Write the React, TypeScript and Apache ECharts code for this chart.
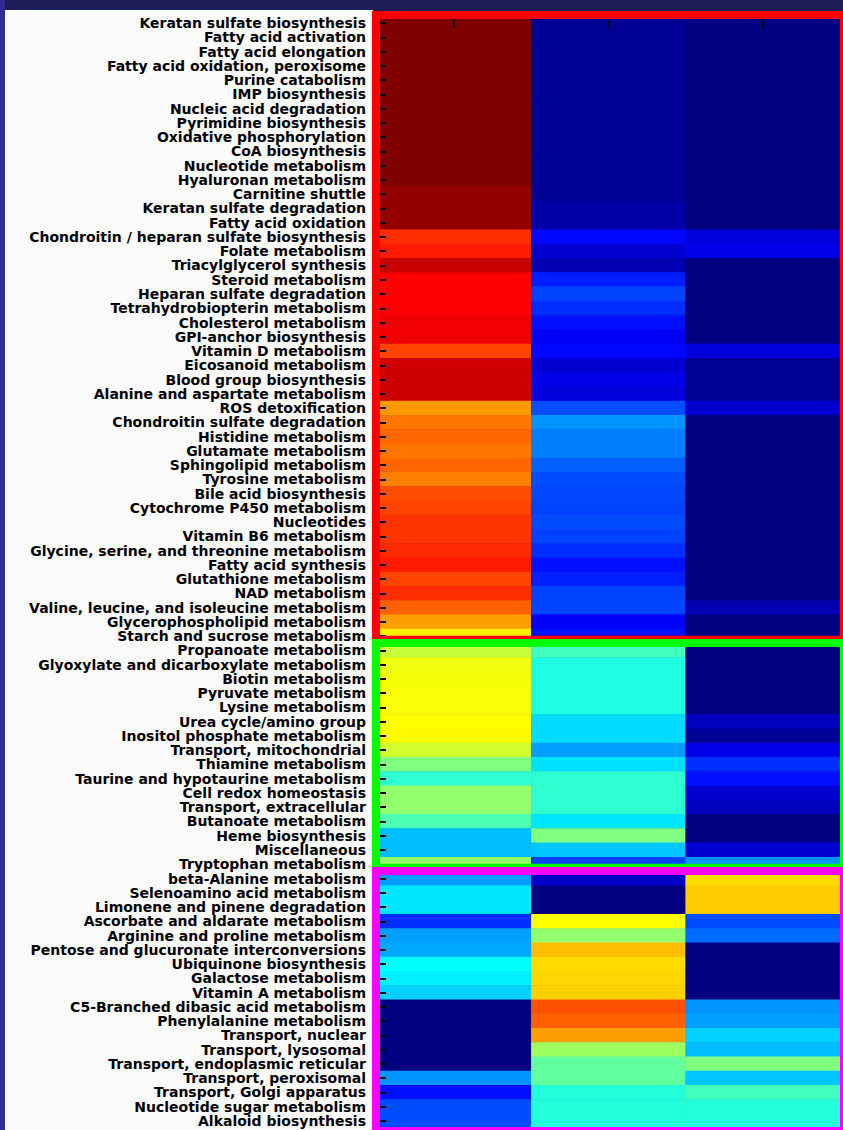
import React, { useEffect, useRef } from "react";
import * as echarts from "echarts";

const categories = [
  "Keratan sulfate biosynthesis",
  "Fatty acid activation",
  "Fatty acid elongation",
  "Fatty acid oxidation, peroxisome",
  "Purine catabolism",
  "IMP biosynthesis",
  "Nucleic acid degradation",
  "Pyrimidine biosynthesis",
  "Oxidative phosphorylation",
  "CoA biosynthesis",
  "Nucleotide metabolism",
  "Hyaluronan metabolism",
  "Carnitine shuttle",
  "Keratan sulfate degradation",
  "Fatty acid oxidation",
  "Chondroitin / heparan sulfate biosynthesis",
  "Folate metabolism",
  "Triacylglycerol synthesis",
  "Steroid metabolism",
  "Heparan sulfate degradation",
  "Tetrahydrobiopterin metabolism",
  "Cholesterol metabolism",
  "GPI-anchor biosynthesis",
  "Vitamin D metabolism",
  "Eicosanoid metabolism",
  "Blood group biosynthesis",
  "Alanine and aspartate metabolism",
  "ROS detoxification",
  "Chondroitin sulfate degradation",
  "Histidine metabolism",
  "Glutamate metabolism",
  "Sphingolipid metabolism",
  "Tyrosine metabolism",
  "Bile acid biosynthesis",
  "Cytochrome P450 metabolism",
  "Nucleotides",
  "Vitamin B6 metabolism",
  "Glycine, serine, and threonine metabolism",
  "Fatty acid synthesis",
  "Glutathione metabolism",
  "NAD metabolism",
  "Valine, leucine, and isoleucine metabolism",
  "Glycerophospholipid metabolism",
  "Starch and sucrose metabolism",
  "Propanoate metabolism",
  "Glyoxylate and dicarboxylate metabolism",
  "Biotin metabolism",
  "Pyruvate metabolism",
  "Lysine metabolism",
  "Urea cycle/amino group",
  "Inositol phosphate metabolism",
  "Transport, mitochondrial",
  "Thiamine metabolism",
  "Taurine and hypotaurine metabolism",
  "Cell redox homeostasis",
  "Transport, extracellular",
  "Butanoate metabolism",
  "Heme biosynthesis",
  "Miscellaneous",
  "Tryptophan metabolism",
  "beta-Alanine metabolism",
  "Selenoamino acid metabolism",
  "Limonene and pinene degradation",
  "Ascorbate and aldarate metabolism",
  "Arginine and proline metabolism",
  "Pentose and glucuronate interconversions",
  "Ubiquinone biosynthesis",
  "Galactose metabolism",
  "Vitamin A metabolism",
  "C5-Branched dibasic acid metabolism",
  "Phenylalanine metabolism",
  "Transport, nuclear",
  "Transport, lysosomal",
  "Transport, endoplasmic reticular",
  "Transport, peroxisomal",
  "Transport, Golgi apparatus",
  "Nucleotide sugar metabolism",
  "Alkaloid biosynthesis",
];

const columns = ["A", "B", "C"];

const col1Values = [
  1.0, 1.0, 1.0, 1.0, 1.0, 1.0, 1.0, 1.0, 1.0, 1.0, 1.0, 1.0, 0.98, 0.98, 0.98,
  0.83, 0.85, 0.93, 0.875, 0.875, 0.88, 0.89, 0.89, 0.81, 0.92, 0.925, 0.925,
  0.725, 0.76, 0.775, 0.76, 0.775, 0.75, 0.8, 0.81, 0.825, 0.825, 0.835, 0.85,
  0.81, 0.83, 0.78, 0.72, 0.64,
  0.57, 0.61, 0.615, 0.62, 0.62, 0.625, 0.63, 0.58, 0.5, 0.42, 0.52, 0.52, 0.45,
  0.31, 0.31, 0.52,
  0.28, 0.35, 0.35, 0.17, 0.28, 0.29, 0.375, 0.36, 0.33, 0.0, 0.0, 0.0, 0.0, 0.0,
  0.27, 0.14, 0.2, 0.2,
];

const col2Values = [
  0.02, 0.02, 0.02, 0.02, 0.02, 0.02, 0.02, 0.02, 0.02, 0.02, 0.02, 0.02, 0.02,
  0.04, 0.04, 0.13, 0.08, 0.05, 0.155, 0.19, 0.17, 0.14, 0.12, 0.13, 0.08, 0.1,
  0.09, 0.2, 0.27, 0.25, 0.25, 0.22, 0.2, 0.195, 0.19, 0.2, 0.19, 0.17, 0.14,
  0.155, 0.19, 0.19, 0.12, 0.14,
  0.44, 0.405, 0.405, 0.405, 0.405, 0.34, 0.34, 0.28, 0.345, 0.42, 0.42, 0.42,
  0.35, 0.5, 0.32, 0.19,
  0.07, 0.0, 0.0, 0.625, 0.52, 0.69, 0.66, 0.665, 0.67, 0.795, 0.78, 0.72, 0.53,
  0.47, 0.47, 0.41, 0.41, 0.41,
];

const col3Values = [
  0.0, 0.0, 0.0, 0.0, 0.0, 0.0, 0.0, 0.0, 0.0, 0.0, 0.0, 0.0, 0.0, 0.0, 0.0,
  0.09, 0.1, 0.0, 0.0, 0.0, 0.0, 0.0, 0.0, 0.09, 0.02, 0.02, 0.02, 0.08, 0.0,
  0.0, 0.0, 0.0, 0.0, 0.0, 0.0, 0.0, 0.0, 0.0, 0.0, 0.0, 0.0, 0.05, 0.0, 0.0,
  0.0, 0.0, 0.0, 0.0, 0.0, 0.06, 0.02, 0.1, 0.17, 0.14, 0.08, 0.06, 0.0, 0.0,
  0.08, 0.27,
  0.66, 0.675, 0.675, 0.2, 0.23, 0.0, 0.0, 0.0, 0.0, 0.27, 0.28, 0.33, 0.31,
  0.5, 0.32, 0.44, 0.41, 0.41,
];

// group boxes: [first row, last row, colour]
const groupBoxes: [number, number, string][] = [
  [0, 43, "#ff0000"],
  [44, 59, "#00ff00"],
  [60, 77, "#ff00ff"],
];

const jetColors = [
  "#000080", "#0000ff", "#0080ff", "#00ffff", "#80ff80",
  "#ffff00", "#ff8000", "#ff0000", "#800000",
];

export default function App() {
  const ref = useRef<HTMLDivElement>(null);
  useEffect(() => {
    const chart = echarts.init(ref.current!, null, { renderer: "svg" });
    const data: number[][] = [];
    [col1Values, col2Values, col3Values].forEach((arr, x) =>
      arr.forEach((v, y) => data.push([x, y, v]))
    );
    const gridLeft = 377;
    const gridTop = 16;
    const gridW = 463;
    const gridH = 1112;
    const rowH = gridH / categories.length;
    const bw = 8;
    const elements: any[] = groupBoxes.map(([a, b, c], i) => {
      const top = i === 0 ? 11 : gridTop + a * rowH - 4.4;
      const bottom =
        i === groupBoxes.length - 1 ? 1135 : gridTop + (b + 1) * rowH + 0.4;
      return {
        type: "rect",
        z: 100,
        shape: {
          x: gridLeft - 5 + bw / 2,
          y: top + bw / 2,
          width: 848 - gridLeft + 5 - bw,
          height: bottom - top - bw,
        },
        style: { fill: "none", stroke: c, lineWidth: bw },
      };
    });
    chart.setOption({
      animation: false,
      backgroundColor: "transparent",
      grid: {
        left: gridLeft,
        top: gridTop,
        width: gridW,
        height: gridH,
        containLabel: false,
        outerBoundsMode: "none",
      },
      xAxis: {
        type: "category",
        data: columns,
        position: "top",
        z: 10,
        axisLine: { show: false },
        axisLabel: { show: false },
        axisTick: {
          show: true,
          inside: true,
          length: 12,
          alignWithLabel: true,
          lineStyle: { color: "#000", width: 1.5 },
        },
        splitLine: { show: false },
      },
      yAxis: {
        type: "category",
        data: categories,
        inverse: true,
        z: 10,
        axisLine: { show: false },
        axisTick: {
          show: true,
          inside: true,
          length: 9,
          alignWithLabel: true,
          lineStyle: { color: "#000", width: 2 },
        },
        axisLabel: {
          interval: 0,
          margin: 11,
          color: "#000",
          fontSize: 14,
          lineHeight: 14,
          fontWeight: "bold",
          fontFamily: "DejaVu Sans",
        },
        splitLine: { show: false },
      },
      visualMap: {
        show: false,
        min: 0,
        max: 1,
        dimension: 2,
        inRange: { color: jetColors },
      },
      series: [
        {
          type: "heatmap",
          data,
          itemStyle: { borderWidth: 0 },
          emphasis: { disabled: true },
        },
      ],
      graphic: { elements },
    });
    return () => chart.dispose();
  }, []);
  return (
    <div
      style={{
        position: "absolute",
        left: 0,
        top: 0,
        width: 843,
        height: 1130,
        background: "#1c1c58",
        overflow: "hidden",
      }}
    >
      <div
        style={{
          position: "absolute",
          left: 0,
          top: 0,
          width: 5,
          height: 1130,
          background: "#2e2e8e",
        }}
      />
      <div
        style={{
          position: "absolute",
          left: 5,
          top: 10,
          width: 368,
          height: 1120,
          background: "#fbfbfb",
        }}
      />
      <div
        ref={ref}
        style={{ position: "absolute", left: 0, top: 0, width: 843, height: 1130 }}
      />
    </div>
  );
}
